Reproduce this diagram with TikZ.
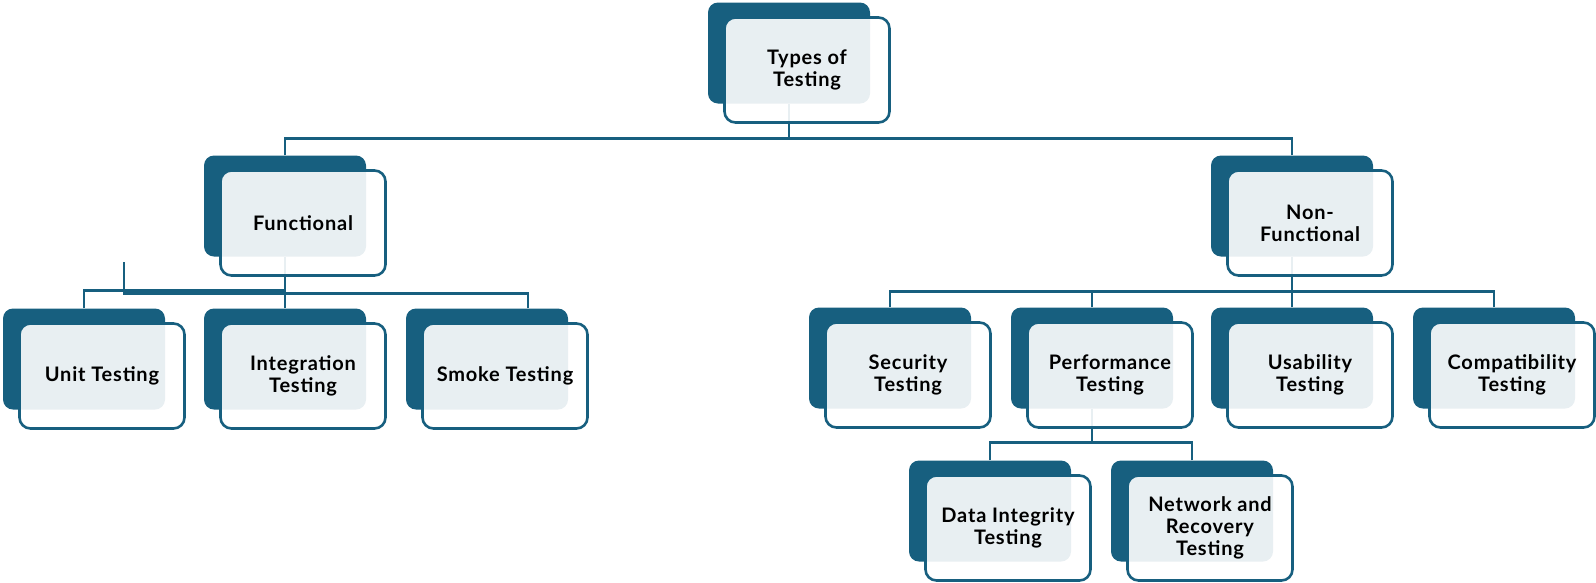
\documentclass[tikz,border=0pt]{standalone}
\usepackage{fontspec}
\setmainfont{Lato}[LetterSpace=4]
\usetikzlibrary{positioning}

\definecolor{teal}{RGB}{23,95,127}

\tikzset{
  backbox/.style={fill=teal, rounded corners=10pt, minimum width=162pt,
    minimum height=101pt, inner sep=0pt},
  frontbox/.style={draw=teal, line width=2.6pt, fill=white, fill opacity=0.9,
    text opacity=1, rounded corners=11pt, minimum width=165pt,
    minimum height=105pt, inner sep=0pt, align=center,
    font=\bfseries\fontsize{20}{22}\selectfont, xshift=18pt, yshift=-17pt},
  link/.style={draw=teal, line width=2.6pt}
}

\begin{document}
\begin{tikzpicture}[x=1pt, y=-1pt]
  \useasboundingbox (0,0) rectangle (1596,582);

  % Back boxes
  \node[backbox] (topB) at (789,53) {};
  \node[backbox] (funcB) at (285,206) {};
  \node[backbox] (nonfB) at (1292,206) {};
  \node[backbox] (unitB) at (84,359) {};
  \node[backbox] (intB) at (285,359) {};
  \node[backbox] (smokeB) at (487,359) {};
  \node[backbox] (secB) at (890,358) {};
  \node[backbox] (perfB) at (1092,358) {};
  \node[backbox] (useB) at (1292,358) {};
  \node[backbox] (compB) at (1494,358) {};
  \node[backbox] (dataB) at (990,511) {};
  \node[backbox] (netB) at (1192,511) {};

  % Links from the top
  \draw[link] (funcB.north) -- ++(0,-17) -| (topB.south);
  \draw[link] (nonfB.north) -- ++(0,-17) -| (topB.south);

  % Functional links
  \coordinate (stray) at (124,262);
  \draw[link] (intB.north) -- (funcB.south);
  \draw[link] (unitB.north) -- ++(0,-18) -| (funcB.south);
  \draw[link] ([xshift=41pt]smokeB.north) -- ++(0,-15) -| (stray);

  % Non-functional links
  \draw[link] (secB.north) -- ++(0,-16) -| (nonfB.south);
  \draw[link] (perfB.north) -- ++(0,-16) -| (nonfB.south);
  \draw[link] (useB.north) -- (nonfB.south);
  \draw[link] (compB.north) -- ++(0,-16) -| (nonfB.south);

  % Performance links
  \draw[link] (dataB.north) -- ++(0,-18) -| (perfB.south);
  \draw[link] (netB.north) -- ++(0,-18) -| (perfB.south);

  % Front boxes
  \node[frontbox] (top) at (topB.center) {Types of\\Testing};
  \node[frontbox] (func) at (funcB.center) {Functional};
  \node[frontbox] (nonf) at (nonfB.center) {Non-\\Functional};
  \node[frontbox] (unit) at (unitB.center) {Unit Testing};
  \node[frontbox] (int) at (intB.center) {Integration\\Testing};
  \node[frontbox] (smoke) at (smokeB.center) {Smoke Testing};
  \node[frontbox] (sec) at (secB.center) {Security\\Testing};
  \node[frontbox] (perf) at (perfB.center) {Performance\\Testing};
  \node[frontbox] (use) at (useB.center) {Usability\\Testing};
  \node[frontbox] (comp) at (compB.center) {Compatibility\\Testing};
  \node[frontbox] (data) at (dataB.center) {Data Integrity\\Testing};
  \node[frontbox] (net) at (netB.center) {Network and\\Recovery\\Testing};
\end{tikzpicture}
\end{document}
